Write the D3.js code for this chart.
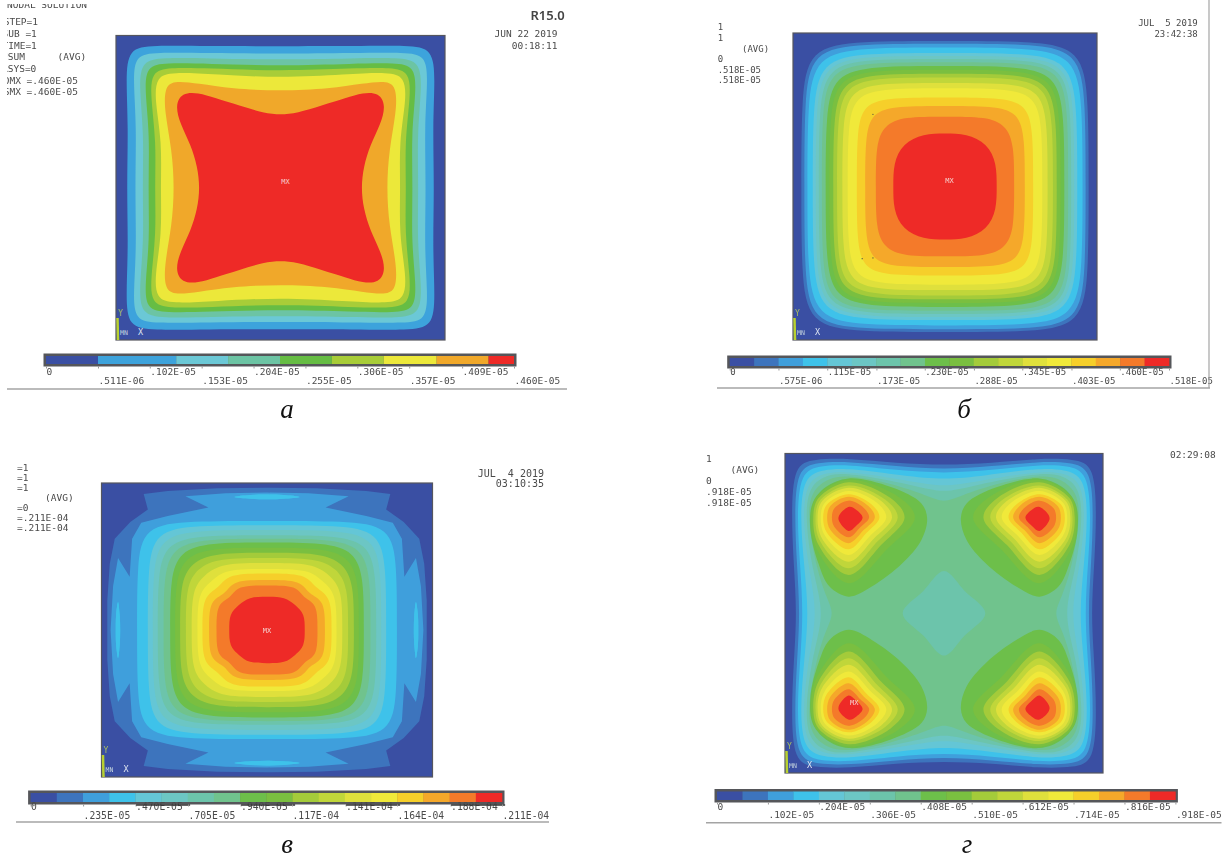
<!doctype html>
<html>

<head>
    <meta charset="utf-8">
    <title>Plate displacement contours</title>
    <script src="https://cdn.jsdelivr.net/npm/d3@7"></script>
    <style type="text/css">
        html,
        body {
            margin: 0;
            padding: 0;
            background: #fff;
        }

        svg {
            display: block;
            filter: blur(0.55px);
        }

        .mono {
            font-family: "DejaVu Sans Mono", monospace;
            fill: #4a4a4a;
        }
    </style>
</head>

<body>
    <div id="chart"></div>
    <script type="text/javascript">
        // colour bands, low to high
        var bands9 = ["#3a4fa3", "#3da3dc", "#6bc8d6", "#6cc4a4", "#66bd44", "#a8cd38", "#ece83a", "#f0a82a", "#ee2a27"]
        var bands18 = ["#3a4fa3", "#3d74bd", "#3f9fdc", "#3ec2ea", "#64c6d6", "#6cc6c4", "#6cc4ab", "#70c38d", "#6dbf4a",
            "#7abf40", "#a4cb3a", "#c0d63a", "#dfe03c", "#f0e93a", "#f6cf2a", "#f5a82a", "#f47a2a", "#ee2a27"]

        // legend ticks and labels
        var ticksA = [0, .511e-6, .102e-5, .153e-5, .204e-5, .255e-5, .306e-5, .357e-5, .409e-5, .460e-5]
        var labelsA = ["0", ".511E-06", ".102E-05", ".153E-05", ".204E-05", ".255E-05", ".306E-05", ".357E-05", ".409E-05", ".460E-05"]
        var stopsA = [0, .511e-6, .128e-5, .179e-5, .230e-5, .281e-5, .332e-5, .384e-5, .435e-5, .460e-5]
        var ticksB = [0, .575e-6, .115e-5, .173e-5, .230e-5, .288e-5, .345e-5, .403e-5, .460e-5, .518e-5]
        var labelsB = ["0", ".575E-06", ".115E-05", ".173E-05", ".230E-05", ".288E-05", ".345E-05", ".403E-05", ".460E-05", ".518E-05"]
        var ticksC = [0, .235e-5, .470e-5, .705e-5, .940e-5, .117e-4, .141e-4, .164e-4, .188e-4, .211e-4]
        var labelsC = ["0", ".235E-05", ".470E-05", ".705E-05", ".940E-05", ".117E-04", ".141E-04", ".164E-04", ".188E-04", ".211E-04"]
        var ticksD = [0, .102e-5, .204e-5, .306e-5, .408e-5, .510e-5, .612e-5, .714e-5, .816e-5, .918e-5]
        var labelsD = ["0", ".102E-05", ".204E-05", ".306E-05", ".408E-05", ".510E-05", ".612E-05", ".714E-05", ".816E-05", ".918E-05"]

        // contour outlines: one quadrant, from the top axis to the
        // side axis, in plate units (centre 0, edge 1). Row i is the lower edge of band i+1.
        // These are spline control points, so corners sit a little outside the drawn line.
        var quadsA = [
            [[0, .93], [.45, .93], [.78, .935], [.925, .915], [.94, .72], [.925, .4], [.935, 0]],
            [[0, .88], [.45, .885], [.76, .89], [.885, .87], [.895, .7], [.875, .4], [.885, 0]],
            [[0, .84], [.45, .85], [.72, .855], [.845, .83], [.86, .67], [.83, .35], [.84, 0]],
            [[0, .8], [.45, .815], [.7, .82], [.815, .8], [.825, .64], [.795, .35], [.805, 0]],
            [[0, .765], [.45, .785], [.68, .79], [.785, .76], [.79, .6], [.755, .3], [.765, 0]],
            [[0, .72], [.4, .745], [.66, .76], [.755, .73], [.765, .58], [.72, .3], [.73, 0]],
            [[0, .635], [.3, .65], [.5, .685], [.655, .705], [.705, .655], [.705, .5], [.66, .25], [.645, 0]],
            [[0, .48], [.1, .49], [.25, .54], [.4, .59], [.5, .625], [.6, .625], [.64, .54], [.61, .42], [.545, .28], [.505, .14], [.49, 0]]
        ]
        var quadsB = [
            [[0, .948], [.567, .948], [.898, .901], [.945, .569], [.945, 0]],
            [[0, .93], [.555, .93], [.879, .884], [.925, .558], [.925, 0]],
            [[0, .905], [.543, .905], [.851, .851], [.905, .543], [.905, 0]],
            [[0, .87], [.522, .87], [.818, .818], [.87, .522], [.87, 0]],
            [[0, .85], [.51, .85], [.799, .799], [.85, .51], [.85, 0]],
            [[0, .83], [.498, .83], [.78, .78], [.83, .498], [.83, 0]],
            [[0, .81], [.486, .81], [.761, .761], [.81, .486], [.81, 0]],
            [[0, .785], [.471, .785], [.73, .73], [.785, .471], [.785, 0]],
            [[0, .76], [.456, .76], [.707, .707], [.76, .456], [.76, 0]],
            [[0, .735], [.441, .735], [.684, .684], [.735, .441], [.735, 0]],
            [[0, .71], [.426, .71], [.66, .66], [.71, .426], [.71, 0]],
            [[0, .675], [.405, .675], [.628, .628], [.675, .405], [.675, 0]],
            [[0, .64], [.384, .64], [.595, .595], [.64, .384], [.64, 0]],
            [[0, .58], [.348, .58], [.539, .539], [.58, .348], [.58, 0]],
            [[0, .525], [.315, .525], [.483, .483], [.525, .315], [.525, 0]],
            [[0, .455], [.273, .455], [.4, .4], [.455, .273], [.455, 0]],
            [[0, .345], [.14, .345], [.28, .28], [.34, .15], [.34, 0]]
        ]
        // first two outlines of panel C have sharp notches
        var sharpC = [
            [[0, .968], [.3, .965], [.6, .945], [.745, .925], [.72, .82], [.826, .735], [.92, .62], [.95, .45], [.965, .2], [.965, 0]],
            [[0, .935], [.25, .93], [.493, .91], [.354, .833], [.6, .775], [.76, .73], [.815, .62], [.83, .362], [.9, .49], [.93, .3], [.945, 0]]
        ]
        var quadsC = [
            [[0, .742], [.471, .742], [.746, .705], [.785, .445], [.785, 0]],
            [[0, .713], [.432, .713], [.677, .67], [.72, .428], [.72, 0]],
            [[0, .68], [.414, .68], [.642, .632], [.69, .408], [.69, 0]],
            [[0, .645], [.396, .645], [.607, .593], [.66, .387], [.66, 0]],
            [[0, .62], [.375, .62], [.569, .564], [.625, .372], [.625, 0]],
            [[0, .595], [.351, .595], [.527, .536], [.585, .357], [.585, 0]],
            [[0, .56], [.333, .56], [.494, .498], [.555, .336], [.555, 0]],
            [[0, .525], [.315, .525], [.459, .459], [.525, .315], [.525, 0]],
            [[0, .49], [.294, .49], [.421, .421], [.49, .294], [.49, 0]],
            [[0, .455], [.273, .455], [.377, .377], [.455, .273], [.455, 0]],
            [[0, .415], [.252, .415], [.336, .332], [.42, .249], [.42, 0]],
            [[0, .385], [.234, .385], [.289, .285], [.39, .231], [.39, 0]],
            [[0, .34], [.21, .34], [.249, .241], [.35, .204], [.35, 0]],
            [[0, .303], [.183, .303], [.217, .215], [.305, .182], [.305, 0]],
            [[0, .226], [.11, .226], [.17, .17], [.228, .11], [.228, 0]]
        ]
        // slim cyan islands near the edge midpoints of panel C
        var islandsC = [
            [[.197, .905], [.1, .918], [0, .921], [-.1, .918], [-.197, .905], [-.1, .893], [0, .889], [.1, .893]],
            [[.9, .19], [.912, .1], [.914, 0], [.912, -.1], [.9, -.19], [.89, -.1], [.887, 0], [.89, .1]]
        ]
        var quadsD = [
            [[0, .927], [.3, .94], [.6, .97], [.82, .965], [.945, .93], [.96, .62], [.945, .3], [.925, 0]],
            [[0, .9], [.3, .92], [.6, .95], [.8, .945], [.925, .905], [.94, .62], [.925, .3], [.905, 0]],
            [[0, .875], [.3, .895], [.6, .93], [.78, .925], [.905, .885], [.925, .6], [.905, .3], [.885, 0]],
            [[0, .835], [.25, .86], [.6, .91], [.76, .9], [.885, .855], [.905, .6], [.88, .3], [.85, 0]],
            [[0, .79], [.2, .825], [.6, .89], [.75, .88], [.865, .825], [.89, .6], [.85, .27], [.795, 0]],
            [[0, .75], [.18, .8], [.6, .88], [.73, .87], [.85, .8], [.875, .6], [.825, .25], [.75, 0]],
            [[0, .69], [.1, .735], [.34, .815], [.6, .865], [.72, .85], [.835, .77], [.86, .6], [.8, .27], [.74, .1], [.69, 0]]
        ]
        // centre diamond of panel D, band 6
        var diamondD = [[[0, .265], [.13, .14], [.26, 0], [.13, -.14], [0, -.265], [-.13, -.14], [-.26, 0], [-.13, .14]]]
        // blobs round the four peaks of panel D, bands 8 to 17, top right copy
        var peaksD = [
            [[.6, .844], [.334, .79], [.142, .6875], [.106, .594], [.142, .458], [.262, .3125], [.454, .167], [.6, .104], [.72, .167], [.79, .3125], [.84, .52], [.827, .6875], [.743, .79]],
            [[.6, .835], [.287, .729], [.183, .6], [.358, .402], [.6, .188], [.8, .402], [.835, .6], [.8, .729]],
            [[.6, .82], [.336, .721], [.248, .6], [.396, .427], [.6, .24], [.789, .427], [.822, .6], [.789, .721]],
            [[.6, .8], [.368, .71], [.291, .6], [.421, .447], [.6, .281], [.777, .447], [.808, .6], [.777, .71]],
            [[.6, .785], [.395, .702], [.327, .6], [.442, .467], [.6, .323], [.766, .467], [.795, .6], [.766, .702]],
            [[.6, .765], [.422, .691], [.363, .6], [.463, .487], [.6, .365], [.749, .487], [.775, .6], [.749, .691]],
            [[.6, .745], [.455, .68], [.406, .6], [.487, .504], [.6, .4], [.736, .504], [.76, .6], [.736, .68]],
            [[.6, .73], [.476, .672], [.435, .6], [.504, .522], [.6, .438], [.715, .522], [.735, .6], [.715, .672]],
            [[.6, .705], [.503, .658], [.471, .6], [.525, .54], [.6, .475], [.689, .54], [.705, .6], [.689, .658]],
            [[.595, .667], [.655, .62], [.663, .585], [.6, .515], [.555, .545], [.512, .6], [.555, .65]]
        ]
        // stray mesh dots in panel B
        var dotsB = [[-.474, .47], [-.474, -.465], [-.545, -.47]]

        // text blocks beside each plate: [x, y, string]
        var notesA = [[7, 8, "NODAL SOLUTION"], [3.7, 25, "STEP=1"], [2.5, 36.5, "SUB =1"], [2.5, 49, "TIME=1"], [2, 59.5, "USUM"], [57.5, 59.5, "(AVG)"],
            [2, 71.5, "RSYS=0"], [3.7, 83.5, "DMX =.460E-05"], [3.7, 95, "SMX =.460E-05"]]
        var stampA = [[557.5, 36.5, "JUN 22 2019"], [557.5, 49, "00:18:11"]]
        var notesB = [[717.7, 30, "1"], [717.7, 41, "1"], [742, 51.5, "(AVG)"], [717.7, 62, "0"], [717.7, 72.5, ".518E-05"], [717.7, 83, ".518E-05"]]
        var stampB = [[1197.8, 26, "JUL  5 2019"], [1197.8, 37, "23:42:38"]]
        var notesC = [[17, 470.5, "=1"], [17, 480.5, "=1"], [17, 490.5, "=1"], [45, 500.5, "(AVG)"], [17, 510.5, "=0"], [17, 520.5, "=.211E-04"], [17, 530.5, "=.211E-04"]]
        var stampC = [[544, 476.5, "JUL  4 2019"], [544, 486.5, "03:10:35"]]
        var notesD = [[706, 461.5, "1"], [730.5, 472.5, "(AVG)"], [706, 483.5, "0"], [706, 494.5, ".918E-05"], [706, 505.5, ".918E-05"]]
        var stampD = [[1215.7, 457.5, "02:29:08"]]

        var svg = d3.select("#chart").append("svg").attr("width", 1227).attr("height", 858)

        // top-right quadrant -> closed outline round all four
        function mirror(q) {
            return q
                .concat(q.slice(0, -1).reverse().map(function (p) { return [p[0], -p[1]] }))
                .concat(q.slice(1).map(function (p) { return [-p[0], -p[1]] }))
                .concat(q.slice(1, -1).reverse().map(function (p) { return [-p[0], p[1]] }))
        }

        // closed loop -> its four mirror copies
        function copies(loop) {
            return [[1, 1], [-1, 1], [1, -1], [-1, -1]].map(function (s) {
                return loop.map(function (p) { return [p[0] * s[0], p[1] * s[1]] })
            })
        }

        var curveSpline = d3.curveBasisClosed
        var curveExact = d3.curveCatmullRomClosed.alpha(0.5)
        var curveSharp = d3.curveLinearClosed

        function drawPlate(box, palette, layers) {
            var x = d3.scaleLinear().domain([-1, 1]).range([box.x0, box.x1])
            var y = d3.scaleLinear().domain([-1, 1]).range([box.y1, box.y0])
            var g = svg.append("g")

            g.append("rect")
                .attr("x", box.x0).attr("y", box.y0)
                .attr("width", box.x1 - box.x0).attr("height", box.y1 - box.y0)
                .attr("fill", palette[0])

            layers.forEach(function (layer) {
                var line = d3.line()
                    .x(function (p) { return x(p[0]) })
                    .y(function (p) { return y(p[1]) })
                    .curve(layer.curve)
                g.selectAll(null)
                    .data(layer.shapes)
                    .enter()
                    .append("path")
                    .attr("d", line)
                    .attr("fill", function (d, i) { return palette[layer.band(i)] })
            })

            g.append("rect")
                .attr("x", box.x0).attr("y", box.y0)
                .attr("width", box.x1 - box.x0).attr("height", box.y1 - box.y0)
                .attr("fill", "none").attr("stroke", "#55565e").attr("stroke-width", 1.2)

            // triad in the lower left corner
            g.append("path")
                .attr("d", "M" + (box.x0 + 1.5) + "," + (box.y1 - 22) + "L" + (box.x0 + 2) + "," + box.y1)
                .attr("stroke", "#b8d030").attr("stroke-width", 2.5).attr("fill", "none")
            g.append("text").text("Y").attr("x", box.x0 + 2).attr("y", box.y1 - 24)
                .attr("class", "mono").style("fill", "#a8c060").style("font-size", "8px")
            g.append("text").text("MN").attr("x", box.x0 + 4).attr("y", box.y1 - 5)
                .attr("class", "mono").style("fill", "#c8d8e0").style("font-size", "6.5px")
            g.append("text").text("X").attr("x", box.x0 + 22).attr("y", box.y1 - 5)
                .attr("class", "mono").style("fill", "#dfe6f2").style("font-size", "8.5px")

            return { x: x, y: y }
        }

        function drawMax(scales, u, v) {
            svg.append("text").text("MX")
                .attr("x", scales.x(u)).attr("y", scales.y(v) + 2.5)
                .attr("text-anchor", "middle")
                .attr("class", "mono")
                .style("fill", "#f6d0cc").style("font-size", "7px")
        }

        function drawLegend(lg, palette, stops, ticks, labels) {
            var value = d3.scaleLinear().domain([0, ticks[ticks.length - 1]]).range([lg.x0, lg.x1])
            var g = svg.append("g")

            g.append("rect")
                .attr("x", lg.x0 - 2.5).attr("y", lg.y0 - 2.5)
                .attr("width", lg.x1 - lg.x0 + 5).attr("height", lg.y1 - lg.y0 + 5)
                .attr("fill", "#55565a")

            if (stops) {
                g.selectAll(null).data(d3.pairs(stops)).enter().append("rect")
                    .attr("x", function (d) { return value(d[0]) })
                    .attr("width", function (d) { return value(d[1]) - value(d[0]) })
                    .attr("y", lg.y0).attr("height", lg.y1 - lg.y0)
                    .attr("fill", function (d, i) { return palette[i] })
            } else {
                var band = d3.scaleBand().domain(palette).range([lg.x0, lg.x1])
                g.selectAll(null).data(palette).enter().append("rect")
                    .attr("x", function (d) { return band(d) })
                    .attr("width", band.bandwidth() + 0.3)
                    .attr("y", lg.y0).attr("height", lg.y1 - lg.y0)
                    .attr("fill", function (d) { return d })
            }

            var clipId = "clip" + lg.id
            svg.append("clipPath").attr("id", clipId).append("rect")
                .attr("x", 0).attr("y", 0).attr("width", lg.clip).attr("height", 858)

            var axis = d3.axisBottom(value)
                .tickValues(ticks)
                .tickSize(2)
                .tickFormat(function (d, i) { return labels[i] })

            var ag = svg.append("g")
                .attr("clip-path", "url(#" + clipId + ")")
                .append("g")
                .attr("transform", "translate(0," + (lg.y1 + 2.5) + ")")
                .call(axis)
            ag.select(".domain").remove()
            ag.selectAll(".tick line").attr("stroke", "#999")
            ag.selectAll(".tick text")
                .attr("class", "mono")
                .attr("text-anchor", "start")
                .attr("dy", null)
                .attr("y", function (d, i) { return i % 2 ? lg.row2 : lg.row1 })
                .style("font-size", lg.size + "px")

            // the thick underline over the top-row labels in panel C
            if (lg.underline) {
                ag.selectAll(".tick")
                    .filter(function (d, i) { return i % 2 === 0 && i > 0 })
                    .append("line")
                    .attr("x1", 0).attr("x2", 54).attr("y1", 0.5).attr("y2", 0.5)
                    .attr("stroke", "#333").attr("stroke-width", 1.3)
            }

            svg.append("line")
                .attr("x1", lg.ruleX0).attr("x2", lg.ruleX1)
                .attr("y1", lg.ruleY).attr("y2", lg.ruleY)
                .attr("stroke", "#a4a4a4").attr("stroke-width", 1.5)
        }

        function drawNotes(id, clipX, rows, anchor, size) {
            svg.append("clipPath").attr("id", id).append("rect")
                .attr("x", clipX).attr("y", id === "notesA" ? 4.5 : 0).attr("width", 1227).attr("height", 858)
            svg.append("g").attr("clip-path", "url(#" + id + ")")
                .selectAll("text").data(rows).enter().append("text")
                .attr("class", "mono")
                .attr("x", function (d) { return d[0] })
                .attr("y", function (d) { return d[1] })
                .attr("text-anchor", anchor)
                .style("white-space", "pre")
                .style("font-size", size + "px")
                .text(function (d) { return d[2] })
        }

        function caption(text, x, y) {
            svg.append("text").text(text)
                .attr("x", x).attr("y", y)
                .attr("text-anchor", "middle")
                .style("font-family", "'Liberation Serif', serif")
                .style("font-style", "italic")
                .style("font-size", "27px")
                .style("fill", "#111")
        }

        function only(index) { return function () { return index } }
        function offset(start) { return function (i) { return start + i } }

        // panel a
        var plateA = drawPlate({ x0: 116, x1: 445, y0: 35.5, y1: 340 }, bands9, [
            { shapes: quadsA.map(mirror), band: offset(1), curve: curveSpline }
        ])
        drawMax(plateA, .03, .04)
        drawLegend({ id: "A", x0: 46, x1: 514, y0: 356, y1: 364, row1: 8, row2: 17, size: 9.5, clip: 1227, ruleX0: 7, ruleX1: 567, ruleY: 389 },
            bands9, stopsA, ticksA, labelsA)
        drawNotes("notesA", 7, notesA, "start", 9.5)
        drawNotes("stampA", 0, stampA, "end", 9.5)
        svg.append("text").text("R15.0").attr("x", 530.5).attr("y", 20)
            .style("font-family", "'Noto Sans', sans-serif").style("font-size", "13px").style("font-weight", 600).style("fill", "#444")
        caption("а", 287, 418)

        // panel б
        var plateB = drawPlate({ x0: 793, x1: 1097, y0: 33, y1: 340 }, bands18, [
            { shapes: quadsB.map(mirror), band: offset(1), curve: curveSpline }
        ])
        svg.selectAll(null).data(dotsB).enter().append("circle")
            .attr("cx", function (d) { return plateB.x(d[0]) })
            .attr("cy", function (d) { return plateB.y(d[1]) })
            .attr("r", 0.6).attr("fill", "#444")
        drawMax(plateB, .03, .04)
        drawLegend({ id: "B", x0: 729.7, x1: 1169, y0: 358, y1: 366, row1: 6.5, row2: 15, size: 9, clip: 1227, ruleX0: 717, ruleX1: 1210, ruleY: 388 },
            bands18, null, ticksB, labelsB)
        svg.append("line").attr("x1", 1209).attr("x2", 1209).attr("y1", 0).attr("y2", 388)
            .attr("stroke", "#a4a4a4").attr("stroke-width", 1.2)
        drawNotes("notesB", 717.7, notesB, "start", 9)
        drawNotes("stampB", 0, stampB, "end", 9)
        caption("б", 964, 418)

        // panel в
        var plateC = drawPlate({ x0: 101.5, x1: 432.5, y0: 483, y1: 777 }, bands18, [
            { shapes: sharpC.map(mirror), band: offset(1), curve: curveSharp },
            { shapes: islandsC.flatMap(copies), band: only(3), curve: curveExact },
            { shapes: quadsC.map(mirror), band: offset(3), curve: curveSpline }
        ])
        drawMax(plateC, 0, 0)
        drawLegend({ id: "C", x0: 30.6, x1: 502, y0: 793, y1: 802, row1: 5.5, row2: 14, size: 9.7, clip: 549, ruleX0: 16, ruleX1: 549, ruleY: 822, underline: true },
            bands18, null, ticksC, labelsC)
        drawNotes("notesC", 17, notesC, "start", 9.5)
        drawNotes("stampC", 0, stampC, "end", 10)
        caption("в", 287, 853)

        // panel г
        var plateD = drawPlate({ x0: 785, x1: 1103, y0: 453.5, y1: 773 }, bands18, [
            { shapes: quadsD.map(mirror), band: offset(1), curve: curveSpline },
            { shapes: diamondD, band: only(6), curve: curveExact },
            { shapes: peaksD.flatMap(copies), band: function (i) { return 8 + Math.floor(i / 4) }, curve: curveExact }
        ])
        drawMax(plateD, -.565, -.56)
        drawLegend({ id: "D", x0: 717, x1: 1175.4, y0: 791.5, y1: 800, row1: 7, row2: 15, size: 9.5, clip: 1221, ruleX0: 706, ruleX1: 1221.5, ruleY: 822.7 },
            bands18, null, ticksD, labelsD)
        drawNotes("notesD", 706, notesD, "start", 9.5)
        drawNotes("stampD", 0, stampD, "end", 9.5)
        caption("г", 967, 853)
    </script>
</body>

</html>
